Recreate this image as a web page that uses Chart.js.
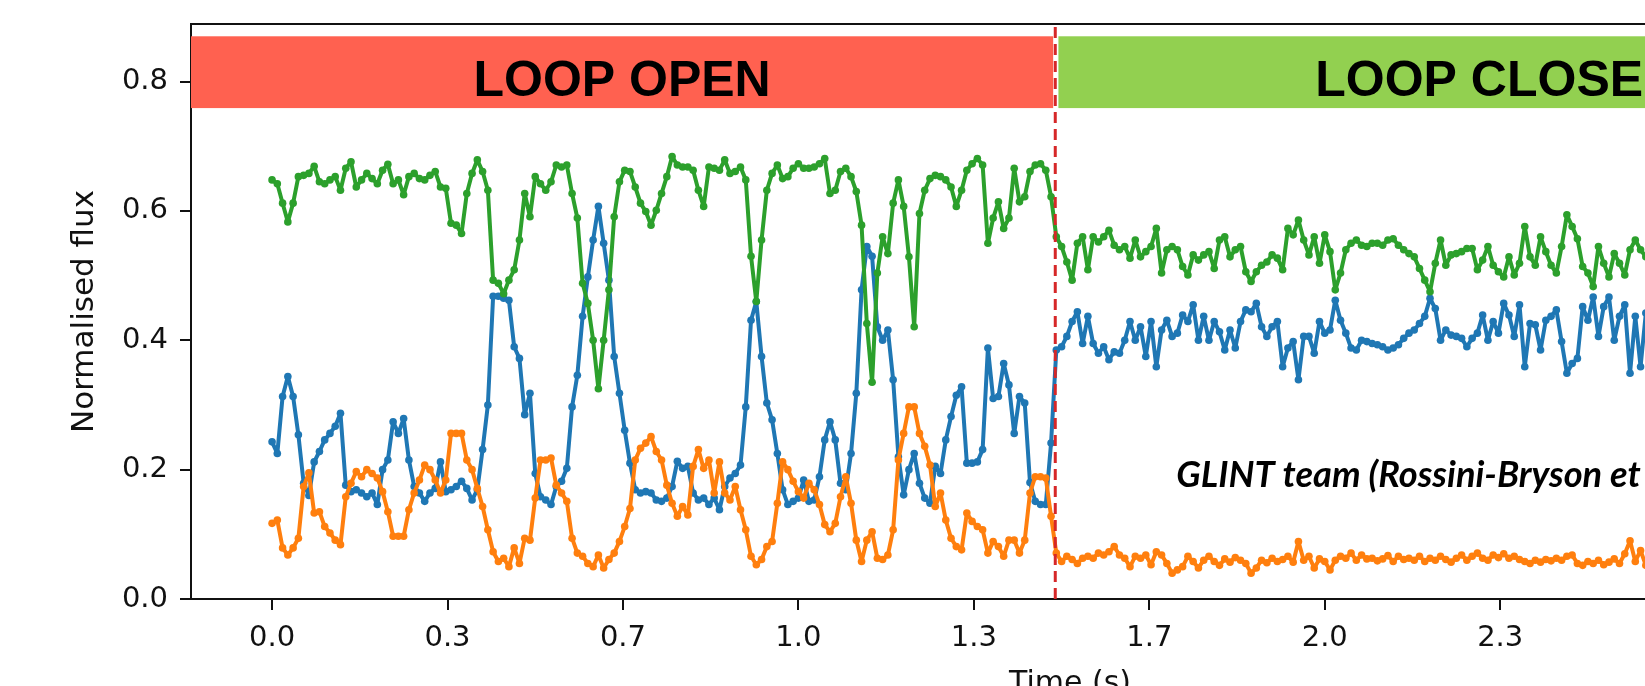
<!DOCTYPE html>
<html>
<head>
<meta charset="utf-8">
<script src="https://cdn.jsdelivr.net/npm/chart.js@4.4.1/dist/chart.umd.min.js"></script>
<style>
  html, body { margin: 0; padding: 0; background: #fff; overflow: hidden; }
  canvas { display: block; }
</style>
</head>
<body>
<canvas id="flux-chart" width="1949" height="686"></canvas>
<script>
// sampling of the three outputs (s)
const dt = 0.01

// normalised flux, every 0.01 s from t = 0
const blueFlux = [
  0.243,0.225,0.313,0.344,0.313,0.254,0.179,0.160,0.212,0.228,
  0.246,0.256,0.267,0.287,0.176,0.166,0.169,0.164,0.158,0.164,
  0.146,0.200,0.215,0.274,0.256,0.279,0.215,0.174,0.164,0.151,
  0.164,0.171,0.212,0.166,0.169,0.174,0.182,0.171,0.153,0.169,
  0.231,0.300,
  0.468,0.468,0.465,0.462,0.390,0.372,0.285,0.318,0.194,0.158,
  0.153,0.146,0.174,0.182,0.202,0.297,0.346,0.437,0.498,0.555,
  0.607,0.550,0.493,0.375,0.318,0.261,0.210,0.169,0.164,0.166,
  0.164,0.153,0.151,0.156,0.174,0.213,0.202,0.205,0.164,0.153,
  0.156,0.146,0.156,
  0.138,0.174,0.187,0.194,0.207,0.297,0.431,0.460,0.375,0.303,
  0.277,0.225,0.169,0.146,0.151,0.156,0.184,0.151,0.153,0.189,
  0.246,0.274,0.246,0.179,0.169,0.225,0.318,0.478,0.545,0.530,
  0.421,0.400,0.416,0.339,0.220,0.161,0.200,0.225,0.179,0.156,
  0.148,0.205,0.194,0.246,
  0.282,0.315,0.328,0.210,0.210,0.212,0.231,0.388,0.310,0.313,
  0.364,0.331,0.256,0.313,0.303,0.180,0.151,0.146,0.146,0.241,
  0.385,0.390,0.406,0.429,0.444,0.395,0.437,0.395,0.380,0.390,
  0.370,0.382,0.380,0.400,0.429,0.400,0.421,0.375,0.429,0.359,
  0.416,0.431,0.406,
  0.411,0.439,0.429,0.455,0.400,0.437,0.400,0.429,0.413,0.385,
  0.416,0.388,0.429,0.447,0.444,0.457,0.421,0.406,0.421,0.429,
  0.359,0.388,0.398,0.339,0.406,0.406,0.380,0.429,0.411,0.416,
  0.462,0.431,0.411,0.388,0.385,0.400,0.398,0.395,0.393,0.390,
  0.385,0.388,0.393,0.403,
  0.411,0.416,0.426,0.437,0.465,0.449,0.400,0.416,0.408,0.406,
  0.403,0.390,0.403,0.411,0.439,0.400,0.429,0.411,0.457,0.439,
  0.406,0.455,0.359,0.426,0.424,0.385,0.431,0.437,0.447,0.398,
  0.349,0.364,0.372,0.452,0.431,0.467,0.406,0.452,0.467,0.400,
  0.437,0.455,0.349,0.437,0.359,0.442
]
const orangeFlux = [
  0.117,0.122,0.079,0.068,0.079,0.094,0.174,0.195,0.133,0.135,
  0.112,0.102,0.091,0.084,0.158,0.179,0.197,0.189,0.200,0.194,
  0.187,0.166,0.135,0.097,0.097,0.097,0.138,0.164,0.184,0.207,
  0.200,0.184,0.164,0.184,0.256,0.256,0.256,0.215,0.200,0.171,
  0.143,0.107,
  0.073,0.058,0.063,0.050,0.079,0.055,0.094,0.091,0.156,0.215,
  0.215,0.218,0.176,0.164,0.151,0.094,0.071,0.066,0.055,0.050,
  0.068,0.048,0.061,0.071,0.089,0.112,0.140,0.215,0.233,0.241,
  0.251,0.228,0.215,0.176,0.148,0.128,0.143,0.130,0.205,0.231,
  0.202,0.215,0.164,
  0.212,0.164,0.153,0.174,0.138,0.107,0.066,0.053,0.061,0.081,
  0.089,0.148,0.212,0.200,0.182,0.166,0.156,0.179,0.169,0.146,
  0.115,0.104,0.117,0.158,0.189,0.148,0.091,0.058,0.091,0.104,
  0.063,0.061,0.068,0.107,0.215,0.256,0.297,0.297,0.256,0.236,
  0.207,0.143,0.164,0.122,
  0.094,0.081,0.076,0.133,0.120,0.112,0.107,0.071,0.089,0.081,
  0.066,0.091,0.091,0.071,0.091,0.164,0.189,0.189,0.187,0.128,
  0.071,0.058,0.066,0.061,0.055,0.063,0.066,0.063,0.071,0.068,
  0.073,0.081,0.068,0.063,0.050,0.066,0.063,0.068,0.053,0.073,
  0.068,0.055,0.040,
  0.045,0.050,0.066,0.058,0.048,0.060,0.066,0.058,0.052,0.062,
  0.057,0.064,0.060,0.055,0.040,0.048,0.060,0.056,0.063,0.058,
  0.061,0.066,0.057,0.089,0.060,0.066,0.048,0.062,0.058,0.045,
  0.060,0.066,0.063,0.071,0.060,0.068,0.062,0.063,0.059,0.062,
  0.067,0.058,0.066,0.061,
  0.063,0.060,0.066,0.058,0.063,0.060,0.066,0.061,0.057,0.063,
  0.068,0.060,0.066,0.071,0.063,0.060,0.068,0.064,0.070,0.063,
  0.066,0.061,0.058,0.055,0.060,0.057,0.061,0.059,0.063,0.060,
  0.066,0.068,0.055,0.052,0.058,0.055,0.060,0.053,0.057,0.062,
  0.055,0.070,0.090,0.058,0.075,0.052
]
const greenFlux = [
  0.648,0.642,0.612,0.583,0.612,0.653,0.655,0.658,0.669,0.645,
  0.642,0.648,0.653,0.632,0.666,0.676,0.637,0.648,0.658,0.650,
  0.642,0.663,0.672,0.642,0.648,0.625,0.653,0.658,0.650,0.648,
  0.655,0.661,0.637,0.635,0.581,0.578,0.565,0.627,0.658,0.679,
  0.661,0.632,
  0.493,0.488,0.472,0.493,0.509,0.555,0.627,0.591,0.653,0.642,
  0.632,0.645,0.671,0.668,0.671,0.627,0.589,0.488,0.457,0.400,
  0.325,0.400,0.478,0.591,0.645,0.663,0.661,0.637,0.612,0.599,
  0.578,0.601,0.627,0.653,0.684,0.671,0.668,0.668,0.663,0.632,
  0.607,0.668,0.666,
  0.663,0.679,0.658,0.661,0.668,0.648,0.530,0.460,0.555,0.632,
  0.658,0.671,0.650,0.653,0.666,0.673,0.666,0.666,0.668,0.673,
  0.681,0.627,0.632,0.661,0.666,0.653,0.630,0.578,0.426,0.335,
  0.504,0.560,0.534,0.612,0.648,0.607,0.529,0.421,0.596,0.632,
  0.650,0.655,0.653,0.648,
  0.637,0.607,0.632,0.663,0.673,0.681,0.671,0.550,0.589,0.614,
  0.573,0.589,0.666,0.614,0.622,0.661,0.671,0.673,0.663,0.622,
  0.560,0.545,0.521,0.493,0.550,0.560,0.509,0.560,0.552,0.560,
  0.570,0.547,0.540,0.545,0.527,0.555,0.529,0.537,0.545,0.573,
  0.504,0.540,0.545,
  0.540,0.514,0.501,0.532,0.524,0.532,0.537,0.511,0.555,0.560,
  0.529,0.540,0.545,0.506,0.491,0.506,0.516,0.521,0.532,0.527,
  0.509,0.573,0.563,0.586,0.555,0.532,0.560,0.519,0.563,0.537,
  0.478,0.504,0.540,0.550,0.555,0.547,0.545,0.550,0.550,0.547,
  0.555,0.557,0.547,0.540,
  0.534,0.529,0.511,0.493,0.475,0.519,0.555,0.516,0.532,0.534,
  0.537,0.542,0.542,0.509,0.524,0.545,0.516,0.506,0.498,0.529,
  0.501,0.519,0.576,0.529,0.516,0.560,0.537,0.516,0.504,0.545,
  0.594,0.576,0.557,0.514,0.504,0.483,0.545,0.519,0.498,0.534,
  0.519,0.501,0.540,0.555,0.540,0.529
]

// axes
const xTicks = [0, 1/3, 2/3, 1, 4/3, 5/3, 2, 7/3, 8/3, 3]
const xTickLabels = ['0.0','0.3','0.7','1.0','1.3','1.7','2.0','2.3','2.7','3.0']
const yTicks = [0, 0.2, 0.4, 0.6, 0.8]
const yTickLabels = ['0.0','0.2','0.4','0.6','0.8']
const tLeft = -0.154, tRight = 3.186
const yTop = 0.889

// loop open / loop closed switch
const switchTime = 1.488
const bandTop = 0.870, bandBottom = 0.759, bandTextLine = 0.778
const bands = [
  { from: tLeft, to: 1.484, color: '#ff6150', label: 'LOOP OPEN', align: 'center' },
  { from: 1.494, to: tRight, color: '#92d050', label: 'LOOP CLOSE', align: 'left', textAt: 1.982 }
]
const credit = { text: 'GLINT team (Rossini-Bryson et', x: 1.718, y: 0.173, width: 465 }

const toPoints = arr => arr.map((v, i) => ({ x: i * dt, y: v }))

Chart.defaults.font.family = "'DejaVu Sans', sans-serif"
Chart.defaults.color = '#111'

const loopBands = {
  id: 'loopBands',
  beforeDatasetsDraw(chart) {
    const { ctx, scales: { x, y } } = chart
    const top = y.getPixelForValue(bandTop)
    const bottom = y.getPixelForValue(bandBottom)
    ctx.save()
    bands.forEach(b => {
      const x0 = x.getPixelForValue(b.from)
      const x1 = x.getPixelForValue(b.to)
      ctx.fillStyle = b.color
      ctx.fillRect(x0, top, x1 - x0, bottom - top)
      ctx.fillStyle = '#000'
      ctx.font = "bold 50px 'Liberation Sans', Arial, sans-serif"
      ctx.textBaseline = 'alphabetic'
      if (b.align === 'center') {
        ctx.textAlign = 'center'
        ctx.fillText(b.label, (x0 + x1) / 2, y.getPixelForValue(bandTextLine))
      } else {
        ctx.textAlign = 'left'
        ctx.fillText(b.label, x.getPixelForValue(b.textAt), y.getPixelForValue(bandTextLine))
      }
    })
    ctx.restore()
  },
  afterDraw(chart) {
    const { ctx, chartArea, scales: { x, y } } = chart
    ctx.save()
    // top spine
    ctx.strokeStyle = '#111'
    ctx.lineWidth = 2
    ctx.beginPath()
    ctx.moveTo(chartArea.left - 1, y.getPixelForValue(yTop))
    ctx.lineTo(chartArea.right, y.getPixelForValue(yTop))
    ctx.stroke()
    // credit line
    ctx.font = "italic bold 32px Lato, 'Open Sans', sans-serif"
    const size = 32 * credit.width / ctx.measureText(credit.text).width
    ctx.font = "italic bold " + size.toFixed(1) + "px Lato, 'Open Sans', sans-serif"
    ctx.fillStyle = '#000'
    ctx.textAlign = 'left'
    ctx.textBaseline = 'alphabetic'
    ctx.fillText(credit.text, x.getPixelForValue(credit.x), y.getPixelForValue(credit.y))
    ctx.restore()
  }
}

const lineStyle = {
  borderWidth: 4,
  borderJoinStyle: 'round',
  borderCapStyle: 'round',
  pointRadius: 3.8,
  pointBorderWidth: 0,
  tension: 0
}

const chart = document.getElementById('flux-chart')
var fluxChart = new Chart(chart, {
  type: 'line',
  data: {
    datasets: [
      { label: 'switch', data: [{ x: switchTime, y: 0 }, { x: switchTime, y: yTop }],
        borderColor: '#d62728', borderWidth: 3, borderDash: [11, 6], pointRadius: 0, order: 0 },
      { label: 'output 3', data: toPoints(greenFlux), borderColor: '#2ca02c',
        backgroundColor: '#2ca02c', ...lineStyle, order: 1 },
      { label: 'output 2', data: toPoints(orangeFlux), borderColor: '#ff7f0e',
        backgroundColor: '#ff7f0e', ...lineStyle, order: 2 },
      { label: 'output 1', data: toPoints(blueFlux), borderColor: '#1f77b4',
        backgroundColor: '#1f77b4', ...lineStyle, order: 3 }
    ]
  },
  options: {
    responsive: false,
    animation: false,
    layout: { padding: { top: 24, right: 0, bottom: 0, left: 0 }, autoPadding: false },
    scales: {
      x: {
        type: 'linear',
        min: tLeft,
        max: tRight,
        afterFit: scale => { scale.height = 87; scale.paddingLeft = 0; scale.paddingRight = 0 },
        afterBuildTicks: scale => { scale.ticks = xTicks.map(v => ({ value: v })) },
        ticks: {
          font: { size: 29 },
          padding: 11,
          autoSkip: false,
          maxRotation: 0,
          callback: (v, i) => xTickLabels[i]
        },
        grid: { drawOnChartArea: false, tickLength: 11, color: '#111', lineWidth: 2 },
        border: { color: '#111', width: 2 },
        title: { display: true, text: 'Time (s)', font: { size: 30 }, padding: { top: 0, bottom: -16 } }
      },
      y: {
        type: 'linear',
        min: 0,
        max: yTop,
        afterFit: scale => { scale.width = 191; scale.paddingTop = 0; scale.paddingBottom = 0 },
        afterBuildTicks: scale => { scale.ticks = yTicks.map(v => ({ value: v })) },
        ticks: {
          font: { size: 29 },
          padding: 12,
          callback: (v, i) => yTickLabels[i]
        },
        grid: { drawOnChartArea: false, tickLength: 11, color: '#111', lineWidth: 2 },
        border: { color: '#111', width: 2 },
        title: { display: true, text: 'Normalised flux', font: { size: 31 }, padding: { top: 66, bottom: 0 } }
      }
    },
    plugins: {
      legend: { display: false },
      tooltip: { enabled: false }
    }
  },
  plugins: [loopBands]
})
</script>
</body>
</html>
